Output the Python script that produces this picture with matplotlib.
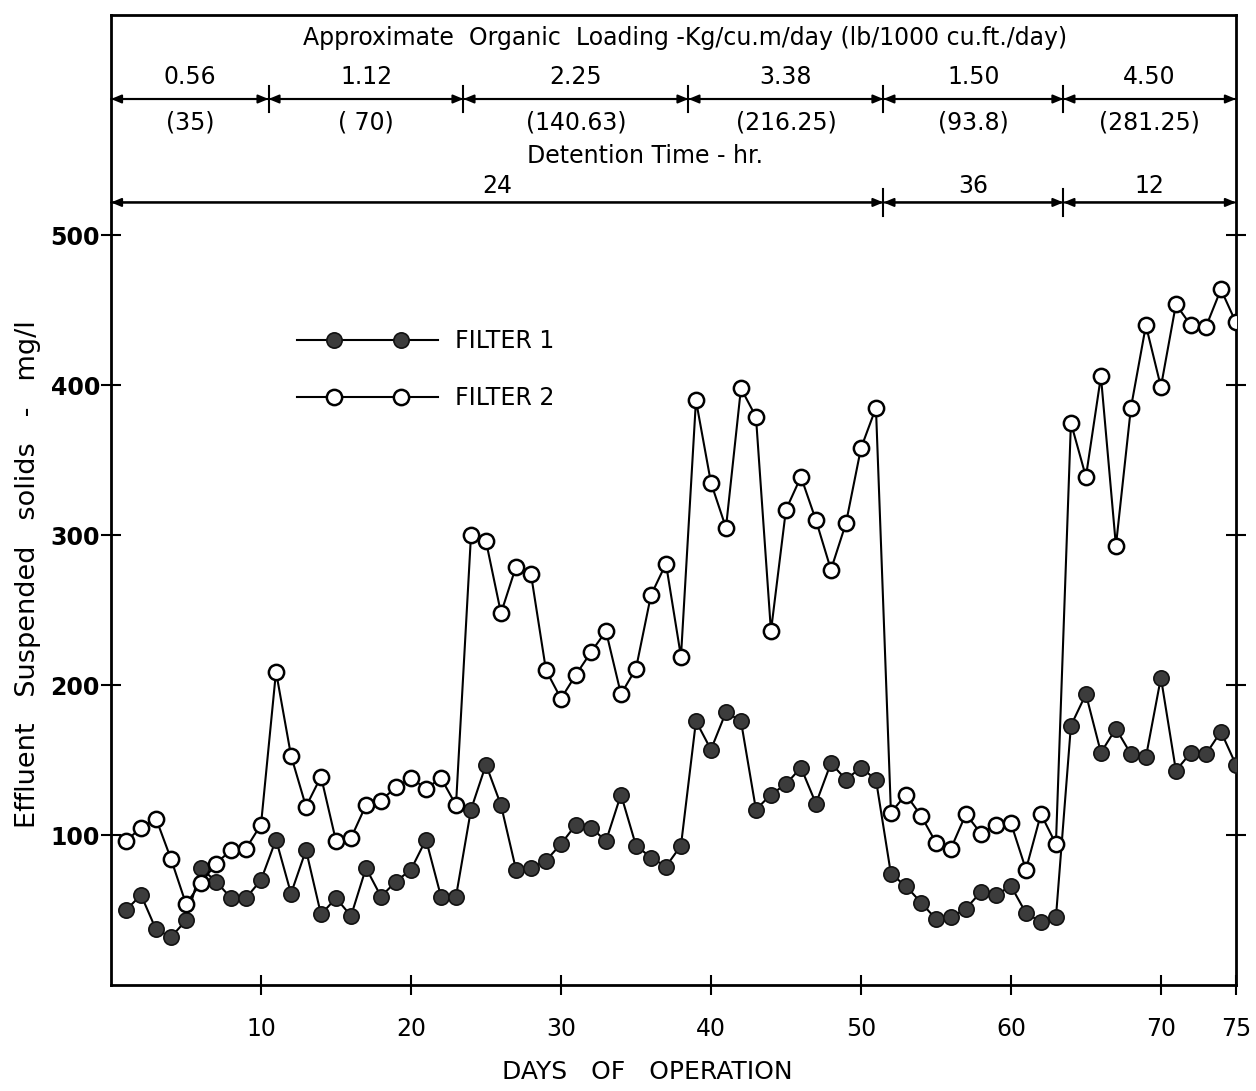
import matplotlib
matplotlib.use("Agg")
import matplotlib.pyplot as plt
from matplotlib.lines import Line2D
from matplotlib.legend_handler import HandlerLine2D, HandlerTuple

# Daily effluent suspended solids (mg/l) for the two filters
days = list(range(1, 76))
filter1 = [50, 60, 37, 32, 43, 78, 69, 58, 58, 70,
           97, 61, 90, 47, 58, 46, 78, 59, 69, 77,
           97, 59, 59, 117, 147, 120, 77, 78, 83, 94,
           107, 105, 96, 127, 93, 85, 79, 93, 176, 157,
           182, 176, 117, 127, 134, 145, 121, 148, 137, 145,
           137, 74, 66, 55, 44, 45, 51, 62, 60, 66,
           48, 42, 45, 173, 194, 155, 171, 154, 152, 205,
           143, 155, 154, 169, 147]
filter2 = [96, 105, 111, 84, 54, 68, 81, 90, 91, 107,
           209, 153, 119, 139, 96, 98, 120, 123, 132, 138,
           131, 138, 120, 300, 296, 248, 279, 274, 210, 191,
           207, 222, 236, 194, 211, 260, 281, 219, 390, 335,
           305, 398, 379, 236, 317, 339, 310, 277, 308, 358,
           385, 115, 127, 113, 95, 91, 114, 101, 107, 108,
           77, 114, 94, 375, 339, 406, 293, 385, 440, 399,
           454, 440, 439, 464, 442]

# Operating periods shown in the header band
loading_si = ["0.56", "1.12", "2.25", "3.38", "1.50", "4.50"]
loading_us = ["(35)", "( 70)", "(140.63)", "(216.25)", "(93.8)", "(281.25)"]
loading_bounds = [0, 10.5, 23.5, 38.5, 51.5, 63.5, 75]
detention_labels = ["24", "36", "12"]
detention_bounds = [0, 51.5, 63.5, 75]

y_ticks = [100, 200, 300, 400, 500]
x_ticks = [10, 20, 30, 40, 50, 60, 70, 75]

plt.rcParams["font.family"] = ["DejaVu Sans"]

fig = plt.figure(figsize=(12.56, 10.91), dpi=100)
ax = fig.add_axes([0.0884, 0.0972, 0.8956, 0.8890])

f1_style = dict(marker="o", markersize=11, markerfacecolor="#3c3c3c",
                markeredgecolor="#111111", markeredgewidth=1.2)
f2_style = dict(marker="o", markersize=11, markerfacecolor="white",
                markeredgecolor="black", markeredgewidth=1.8)

ax.plot(days, filter1, color="black", lw=1.5, zorder=3, **f1_style)
ax.plot(days, filter2, color="black", lw=1.5, zorder=4, **f2_style)

ax.set_xlim(0, 75)
ax.set_ylim(0, 647)

for s in ax.spines.values():
    s.set_linewidth(2)
ax.set_yticks(y_ticks)
ax.set_xticks(x_ticks)
ax.tick_params(axis="both", direction="inout", length=14, width=1.5, right=True)
ax.tick_params(axis="x", labelsize=17, pad=16)
ax.tick_params(axis="y", labelsize=17, pad=1)
for lab in ax.get_yticklabels():
    lab.set_fontweight("bold")

ax.set_xlabel("DAYS   OF   OPERATION", fontsize=18, labelpad=14, x=0.477)
fig.text(0.022, 0.474, "Effluent   Suspended   solids   -   mg/l", rotation=90,
         fontsize=19.5, ha="center", va="center")

# Header band: organic loading and detention time periods
head = dict(ha="center", va="center", fontsize=17)
arrow_kw = dict(arrowstyle="-|>,head_length=0.6,head_width=0.25",
                lw=1.5, color="black", shrinkA=0, shrinkB=0)


def period_arrows(bounds, y):
    for b0, b1 in zip(bounds[:-1], bounds[1:]):
        ax.annotate("", xy=(b1, y), xytext=(b0, y), arrowprops=arrow_kw)
        ax.annotate("", xy=(b0, y), xytext=(b1, y), arrowprops=arrow_kw)
    for b in bounds[1:-1]:
        ax.plot([b, b], [y - 9, y + 9], color="black", lw=1.5)


ax.text(38.3, 632, "Approximate  Organic  Loading -Kg/cu.m/day (lb/1000 cu.ft./day)",
        **head)
period_arrows(loading_bounds, 591)
for i, (a, b) in enumerate(zip(loading_si, loading_us)):
    xm = (loading_bounds[i] + loading_bounds[i + 1]) / 2
    ax.text(xm, 606, a, **head)
    ax.text(xm, 575, b, **head)

ax.text(35.6, 553, "Detention Time - hr.", **head)
period_arrows(detention_bounds, 522)
for i, lab in enumerate(detention_labels):
    xm = (detention_bounds[i] + detention_bounds[i + 1]) / 2
    ax.text(xm, 533, lab, **head)

# Legend: a line that runs past two markers
line1 = Line2D([], [], color="black", lw=1.5)
line2 = Line2D([], [], color="black", lw=1.5)
mk1 = Line2D([], [], ls="none", **f1_style)
mk2 = Line2D([], [], ls="none", **f2_style)
ax.legend([(line1, mk1), (line2, mk2)], ["FILTER 1", "FILTER 2"],
          handler_map={tuple: HandlerTuple(ndivide=1),
                       mk1: HandlerLine2D(numpoints=2, marker_pad=1.6),
                       mk2: HandlerLine2D(numpoints=2, marker_pad=1.6),
                       line1: HandlerLine2D(numpoints=2, marker_pad=0),
                       line2: HandlerLine2D(numpoints=2, marker_pad=0)},
          frameon=False, fontsize=17, handlelength=6.0, handletextpad=0.7,
          labelspacing=1.4, borderpad=0, borderaxespad=0,
          loc="upper left", bbox_to_anchor=(0.165, 0.676))

fig.savefig("out.png", dpi=100, facecolor="white")
